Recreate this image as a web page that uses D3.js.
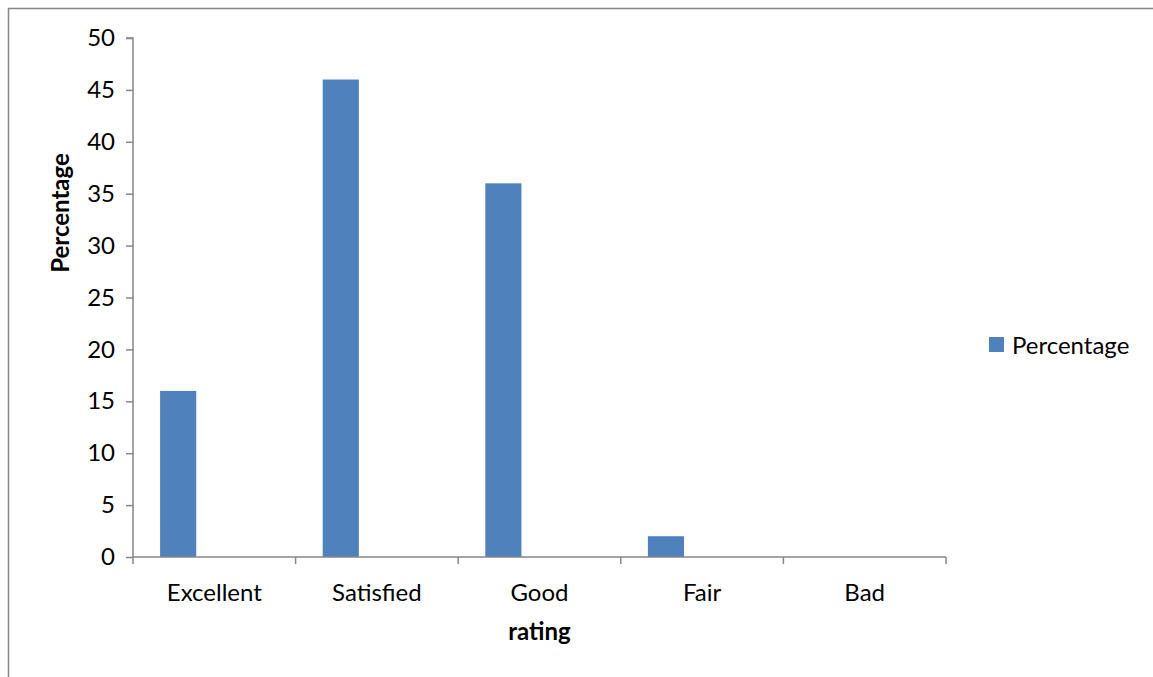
<!DOCTYPE html>
<html>
<head>
<meta charset="utf-8">
<script src="https://cdn.jsdelivr.net/npm/d3@7"></script>
<style>
  html, body { margin: 0; padding: 0; background: #fff; }
  svg { display: block; font-family: Lato, "Open Sans", sans-serif; }
</style>
</head>
<body>
<svg id="chart" width="1153" height="677"></svg>
<script>
// Survey ratings and the share of respondents for each
const categories = ["Excellent", "Satisfied", "Good", "Fair", "Bad"];
const percentages = [16, 46, 36, 2, 0];
const yTicks = [0, 5, 10, 15, 20, 25, 30, 35, 40, 45, 50];
const seriesName = "Percentage";
const xTitle = "rating";
const yTitle = "Percentage";

const svg = d3.select("#chart");
const barColor = "#4F81BD";
const axisColor = "#868686";
const fontSize = 24;

const plot = { left: 133, right: 946, top: 38, bottom: 557 };

// outer chart frame
svg.append("rect")
  .attr("x", 8.5).attr("y", 8.5)
  .attr("width", 1160).attr("height", 700)
  .attr("fill", "none").attr("stroke", axisColor).attr("stroke-width", 1.5);

const x = d3.scaleBand().domain(categories).range([plot.left, plot.right]).padding(0);
const y = d3.scaleLinear().domain([0, 50]).range([plot.bottom, plot.top]);

// bars sit in the first slot of each category (gap width 150%)
const barW = x.bandwidth() / 4.5;
const barOffset = barW * 0.75;

svg.append("g").selectAll("rect")
  .data(categories.map((c, i) => ({ c, v: percentages[i] })))
  .join("rect")
  .attr("x", d => x(d.c) + barOffset)
  .attr("y", d => y(d.v))
  .attr("width", barW)
  .attr("height", d => y(0) - y(d.v))
  .attr("fill", barColor);

// y axis
const yAxis = svg.append("g")
  .attr("transform", `translate(${plot.left},0)`)
  .call(d3.axisLeft(y).tickValues(yTicks).tickSize(7).tickPadding(11).tickFormat(d3.format("d")));
yAxis.selectAll("line, path").attr("stroke", axisColor).attr("stroke-width", 1.5);
yAxis.select(".domain").attr("d", `M-7,${plot.top}H0V${plot.bottom}`);
yAxis.selectAll("text").attr("font-size", fontSize).attr("fill", "#000")
  .attr("font-family", "Lato, 'Open Sans', sans-serif");

// x axis with ticks at the category boundaries
const xAxis = svg.append("g").attr("transform", `translate(0,${plot.bottom})`);
xAxis.append("line")
  .attr("x1", plot.left).attr("x2", plot.right)
  .attr("stroke", axisColor).attr("stroke-width", 1.5);
const bounds = categories.map(c => x(c)).concat([plot.right]);
xAxis.selectAll("line.tick").data(bounds).join("line")
  .attr("class", "tick")
  .attr("x1", d => d).attr("x2", d => d)
  .attr("y1", 0).attr("y2", 7)
  .attr("stroke", axisColor).attr("stroke-width", 1.5);
xAxis.selectAll("text").data(categories).join("text")
  .attr("x", d => x(d) + x.bandwidth() / 2)
  .attr("y", 44)
  .attr("text-anchor", "middle")
  .attr("font-size", fontSize)
  .attr("fill", "#000")
  .text(d => d);

// axis titles
svg.append("text")
  .attr("x", (plot.left + plot.right) / 2).attr("y", 640)
  .attr("text-anchor", "middle").attr("font-size", fontSize).attr("font-weight", "bold")
  .text(xTitle);
svg.append("text")
  .attr("transform", `translate(69,213) rotate(-90)`)
  .attr("text-anchor", "middle").attr("font-size", fontSize).attr("font-weight", "bold")
  .text(yTitle);

// legend
const legend = svg.append("g").attr("transform", "translate(989,337)");
legend.append("rect").attr("width", 15).attr("height", 15).attr("fill", barColor);
legend.append("text").attr("x", 23).attr("y", 17)
  .attr("font-size", fontSize).attr("fill", "#000").text(seriesName);
</script>
</body>
</html>
